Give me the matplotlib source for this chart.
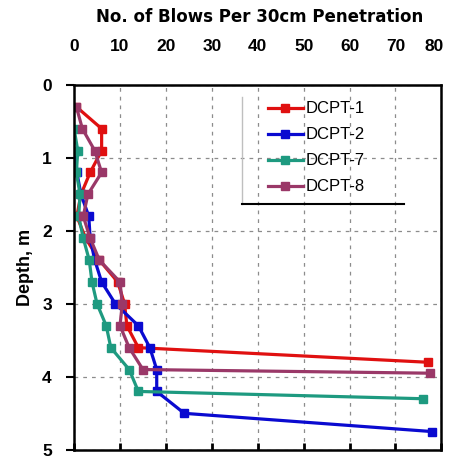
import matplotlib
matplotlib.use("Agg")
import matplotlib.pyplot as plt
from matplotlib.lines import Line2D
from matplotlib.transforms import ScaledTranslation

# depth (m) and blow counts per 30 cm
depth1 = [0.3, 0.6, 0.9, 1.2, 1.5, 1.8, 2.1, 2.4, 2.7, 3.0, 3.3, 3.6, 3.8]
blows1 = [0.5, 6, 6, 3.5, 1.5, 0.6, 2.5, 5.5, 9.5, 11, 11.5, 14, 77]

depth2 = [0.9, 1.2, 1.5, 1.8, 2.1, 2.4, 2.7, 3.0, 3.3, 3.6, 3.9, 4.2, 4.5, 4.75]
blows2 = [0.3, 0.6, 1.5, 3.2, 3.5, 4.5, 6, 9, 14, 16.5, 18, 18, 24, 78]

depth7 = [0.6, 0.9, 1.2, 1.5, 1.8, 2.1, 2.4, 2.7, 3.0, 3.3, 3.6, 3.9, 4.2, 4.3]
blows7 = [0, 0.8, 0.5, 1.3, 1.0, 2, 3.3, 3.9, 5, 7, 8, 12, 14, 76]

depth8 = [0.3, 0.6, 0.9, 1.2, 1.5, 1.8, 2.1, 2.4, 2.7, 3.0, 3.3, 3.6, 3.9, 3.95]
blows8 = [0.5, 1.8, 4.5, 6, 3, 2, 3.5, 5.5, 10, 10.5, 10, 12, 15, 77.5]

labels = ["DCPT-1", "DCPT-2", "DCPT-7", "DCPT-8"]
colors = ["#e01010", "#0a0ad0", "#1e9a80", "#9a3868"]

fig = plt.figure(figsize=(4.49, 4.59), dpi=100)
ax = fig.add_axes([0.165, 0.02, 0.818, 0.795])

series = [(blows1, depth1), (blows2, depth2), (blows7, depth7), (blows8, depth8)]
for (x, y), lab, c in zip(series, labels, colors):
    ax.plot(x, y, color=c, lw=2.3, marker="s", ms=6, label=lab)

ax.set_xlim(0, 80)
ax.set_ylim(5, 0)
ax.set_xticks(range(0, 81, 10))
ax.set_yticks(range(0, 6))
ax.grid(True, color="0.55", ls=(0, (3, 4)), lw=0.9)

ax.tick_params(axis="x", top=False, bottom=True, direction="in", length=5, width=2,
               labeltop=True, labelbottom=False, pad=22)
ax.tick_params(axis="y", direction="out", length=6, width=1.5, pad=10)
for lab in ax.get_xticklabels() + ax.get_yticklabels():
    lab.set_fontweight("bold")
    lab.set_fontsize(12.5)
    lab.set_family("Liberation Sans")
# pull the last top label in a little so it stays on the canvas
last = ax.get_xticklabels()[-1]
last.set_transform(last.get_transform() + ScaledTranslation(-5 / 72, 0, fig.dpi_scale_trans))

for s in ax.spines.values():
    s.set_linewidth(1.8)
    s.set_color("black")

ax.set_ylabel("Depth, m", fontsize=13, fontweight="bold", family="Liberation Sans", labelpad=6)
fig.text(0.578, 0.963, "No. of Blows Per 30cm Penetration", ha="center", va="center",
         fontsize=12, fontweight="bold", family="DejaVu Sans")

leg = ax.legend(loc="upper left", bbox_to_anchor=(0.527, 0.955), frameon=False,
                borderpad=0, borderaxespad=0, handlelength=2.1, handletextpad=0.2,
                labelspacing=0.66, prop={"family": "Liberation Sans", "size": 12})

# legend box edges as drawn in the original (grey left side, dark bottom)
ax.add_line(Line2D([0.4565, 0.4565], [0.673, 0.967], transform=ax.transAxes,
                   color="0.75", lw=1))
ax.add_line(Line2D([0.4565, 0.8995], [0.673, 0.673], transform=ax.transAxes,
                   color="black", lw=1.5))

fig.savefig("out.png", dpi=100)
